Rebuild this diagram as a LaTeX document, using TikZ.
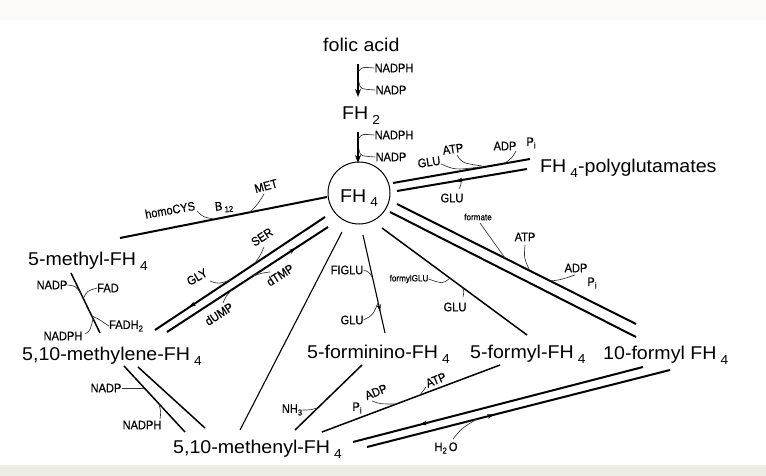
\documentclass[tikz,border=0pt]{standalone}
\usepackage{fontspec}
\setmainfont{Liberation Sans}
\newfontfamily\bigfam[FakeStretch=1.06]{Liberation Sans}
\newfontfamily\smfam[FakeStretch=0.9,FakeBold=0.5]{Liberation Sans}
\newcommand\bigf{\bigfam\fontsize{18.5}{20}\selectfont}
\newcommand\smf{\smfam\fontsize{12.3}{13}\selectfont}
\newcommand\tinyf{\smfam\fontsize{9}{10}\selectfont}
\newcommand\sbig[1]{\hspace{0.22em}\raisebox{-5pt}{\fontsize{13}{13}\selectfont #1}}
\newcommand\ssm[1]{\raisebox{-2.5pt}{\fontsize{8.5}{8.5}\selectfont #1}}
\usetikzlibrary{arrows.meta,decorations.markings}
\definecolor{bandtop}{HTML}{FBFAF6}
\definecolor{bandbot}{HTML}{EDEDE6}
\definecolor{sidec}{HTML}{333333}
\tikzset{
  big/.style={font=\bigf, inner sep=0pt, anchor=base west},
  lab/.style={font=\smf, inner sep=0pt},
  tlab/.style={font=\tinyf, inner sep=0pt},
  thickln/.style={line width=2pt},
  medln/.style={line width=1.5pt},
  thinln/.style={line width=1.1pt},
  side/.style={line width=0.65pt, draw=sidec},
  mainarr/.style={line width=1.2pt, -{Stealth[length=8pt,width=6pt]}},
  midarr/.style={postaction={decorate,decoration={markings,mark=at position #1 with {\arrow{Stealth[length=7pt,width=4.5pt]}}}}}
}
\begin{document}
\begin{tikzpicture}[x=1pt,y=-1pt]
\useasboundingbox (0,0) rectangle (766,476);
\fill[white] (0,0) rectangle (766,476);
\fill[bandtop] (0,0) rectangle (766,20);
\fill[bandbot] (0,465) rectangle (766,476);

% ---- main compounds ----
\node[big] (folic) at (323,52) {folic acid};
\node[big] (fh2) at (342,120) {FH\sbig{2}};
\node[draw, circle, line width=1pt, minimum size=62pt, inner sep=0pt] (fh4) at (359,193) {};
\node[big] (fh4t) at (340,202) {FH\sbig{4}};
\node[big] (poly) at (540,173) {FH\sbig{4}-polyglutamates};
\node[big] (methyl) at (28,265) {5-methyl-FH\sbig{4}};
\node[big] (methylene) at (22,360) {5,10-methylene-FH\sbig{4}};
\node[big] (formino) at (307,358) {5-forminino-FH\sbig{4}};
\node[big] (formyl) at (470,358) {5-formyl-FH\sbig{4}};
\node[big] (tenformyl) at (603,359) {10-formyl FH\sbig{4}};
\node[big] (methenyl) at (173,453) {5,10-methenyl-FH\sbig{4}};

% ---- folic acid -> FH2 -> FH4 ----
\coordinate (a1s) at (358,64); \coordinate (a1e) at (358,97);
\coordinate (a2s) at (358,132); \coordinate (a2e) at (358,163);
\draw[mainarr] (a1s) -- (a1e);
\draw[mainarr] (a2s) -- (a2e);
\node[lab] (nadph1) at (394,68) {NADPH};
\node[lab] (nadp1) at (391,90) {NADP};
\node[lab] (nadph2) at (394,135) {NADPH};
\node[lab] (nadp2) at (391,157) {NADP};
\draw[side] (359,71) .. controls (362,67) .. (nadph1.west);
\draw[side] (359,82) .. controls (360,89) .. (nadp1.west);
\draw[side] (359,138) .. controls (362,134) .. (nadph2.west);
\draw[side] (359,149) .. controls (360,156) .. (nadp2.west);

% ---- FH4 <-> polyglutamates ----
\coordinate (pu1) at (393,183); \coordinate (pu2) at (530,159);
\coordinate (pl1) at (397,191); \coordinate (pl2) at (527,169);
\draw[thickln] (pu1) -- (pu2);
\draw[thickln, midarr=0.55] (pl2) -- (pl1);
\node[lab, rotate=8] (glua) at (429,162) {GLU};
\node[lab, rotate=8] (atpa) at (453,149) {ATP};
\node[lab] (adpa) at (505,146) {ADP};
\node[lab] (pia) at (531,143) {P\ssm{i}};
\node[lab] (glub) at (452,198) {GLU};
\draw[side] (441,164) .. controls (455,170) .. (480,167);
\draw[side] (457,155) .. controls (462,163) .. (482,166);
\draw[side] (516,151) .. controls (512,158) .. (505,163);
\draw[side] (461,181) .. controls (461,185) .. (459,189);

% ---- homoCYS line ----
\coordinate (h1) at (327,197); \coordinate (h2) at (120,238);
\draw[thickln] (h1) -- (h2);
\node[lab, rotate=10] (homocys) at (170,210) {homoCYS};
\node[lab, rotate=5] (b12) at (224,207) {B\,\ssm{12}};
\node[lab, rotate=15] (met) at (266,186) {MET};
\draw[side] (197,211) .. controls (203,217) .. (214,219);
\draw[side] (264,194) .. controls (258,204) .. (250,212);

% ---- 5-methyl <-> methylene ----
\coordinate (me1) at (71,273); \coordinate (me2) at (100,333);
\draw[medln] (me1) -- (me2);
\node[lab] (nadpm) at (52,285) {NADP};
\node[lab] (fad) at (108,288) {FAD};
\node[lab] (nadphm) at (63,336) {NADPH};
\node[lab] (fadh) at (126,326) {FADH\ssm{2}};
\draw[side] (nadpm.east) .. controls (76,286) .. (81,294);
\draw[side] (83,299) .. controls (87,291) .. (fad.west);
\draw[side] (85,334) .. controls (90,331) .. (93,319);
\draw[side] (92,316) .. controls (97,318) .. (fadh.west);

% ---- FH4 <-> methylene ----
\coordinate (u1) at (325,217); \coordinate (u2) at (155,330);
\coordinate (l1) at (328,227); \coordinate (l2) at (167,332);
\draw[thickln, midarr=0.8] (u1) -- (u2);
\draw[thickln, midarr=0.8] (l2) -- (l1);
\node[lab, rotate=33] (ser) at (262,237) {SER};
\node[lab, rotate=30] (gly) at (197,277) {GLY};
\node[lab, rotate=33] (dtmp) at (280,275) {dTMP};
\node[lab, rotate=33] (dump) at (219,314) {dUMP};
\draw[side] (264,247) .. controls (260,256) .. (255,263);
\draw[side] (210,281) .. controls (218,284) .. (231,280);
\draw[side] (270,272) .. controls (262,273) .. (253,276);
\draw[side] (223,303) .. controls (226,296) .. (232,290);

% ---- FH4 -> methenyl (direct) ----
\coordinate (fm1) at (342,232); \coordinate (fm2) at (240,430);
\draw[thinln] (fm1) -- (fm2);

% ---- FH4 -> forminino ----
\coordinate (fo1) at (363,235); \coordinate (fo2) at (385,333);
\draw[thinln, midarr=0.78] (fo1) -- (fo2);
\node[lab] (figlu) at (347,270) {FIGLU};
\node[lab] (gluf) at (352,320) {GLU};
\draw[side] (figlu.east) .. controls (369,272) .. (372,277);
\draw[side] (gluf.east) .. controls (373,315) .. (378,303);

% ---- FH4 -> 5-formyl ----
\coordinate (fy1) at (382,228); \coordinate (fy2) at (527,335);
\draw[medln] (fy1) -- (fy2);
\node[tlab] (formylglu) at (409,279) {formylGLU};
\node[lab] (glug) at (455,307) {GLU};
\draw[side] (formylglu.east) .. controls (443,284) .. (450,278);
\draw[side] (463,288) .. controls (464,292) .. (463,297);

% ---- FH4 -> 10-formyl ----
\coordinate (tu1) at (397,204); \coordinate (tu2) at (636,324);
\coordinate (tl1) at (390,212); \coordinate (tl2) at (636,337);
\draw[thickln] (tu1) -- (tu2);
\draw[thickln] (tl1) -- (tl2);
\node[tlab] (formate) at (478,217) {formate};
\node[lab] (atph) at (525,237) {ATP};
\node[lab] (adph) at (576,268) {ADP};
\node[lab] (pih) at (592,283) {P\ssm{i}};
\draw[side] (480,223) .. controls (492,240) .. (505,258);
\draw[side] (525,245) .. controls (524,258) .. (529,269);
\draw[side] (550,281) .. controls (560,280) .. (575,275);

% ---- methylene -> methenyl ----
\coordinate (ma1) at (124,366); \coordinate (ma2) at (185,432);
\coordinate (mb1) at (138,367); \coordinate (mb2) at (205,428);
\draw[medln] (ma1) -- (ma2);
\draw[medln] (mb1) -- (mb2);
\node[lab] (nadpn) at (106,388) {NADP};
\node[lab] (nadphn) at (142,425) {NADPH};
\draw[side] (nadpn.east) -- (144,388);
\draw[side] (160,419) .. controls (161,412) .. (159,404);

% ---- forminino -> methenyl ----
\coordinate (nf1) at (362,365); \coordinate (nf2) at (295,430);
\draw[medln] (nf1) -- (nf2);
\node[lab] (nh3) at (292,410) {NH\ssm{3}};
\draw[side] (nh3.east) .. controls (310,410) .. (317,408);

% ---- 5-formyl -> methenyl ----
\coordinate (yf1) at (500,365); \coordinate (yf2) at (322,432);
\draw[medln] (yf1) -- (yf2);
\node[lab] (pin) at (357,408) {P\ssm{i}};
\node[lab, rotate=22] (adpn) at (376,392) {ADP};
\node[lab, rotate=22] (atpn) at (436,380) {ATP};
\draw[side] (372,401) .. controls (380,404) .. (395,404);
\draw[side] (426,387) .. controls (423,391) .. (420,395);

% ---- methenyl <-> 10-formyl ----
\coordinate (tm1) at (643,367); \coordinate (tm2) at (353,442);
\coordinate (mt1) at (367,447); \coordinate (mt2) at (670,370);
\draw[thickln, midarr=0.77] (tm1) -- (tm2);
\draw[thickln, midarr=0.42] (mt1) -- (mt2);
\node[lab] (h2o) at (446,448) {H\ssm{2}\,O};
\draw[side] (453,439) .. controls (462,428) .. (477,419);
\end{tikzpicture}
\end{document}
